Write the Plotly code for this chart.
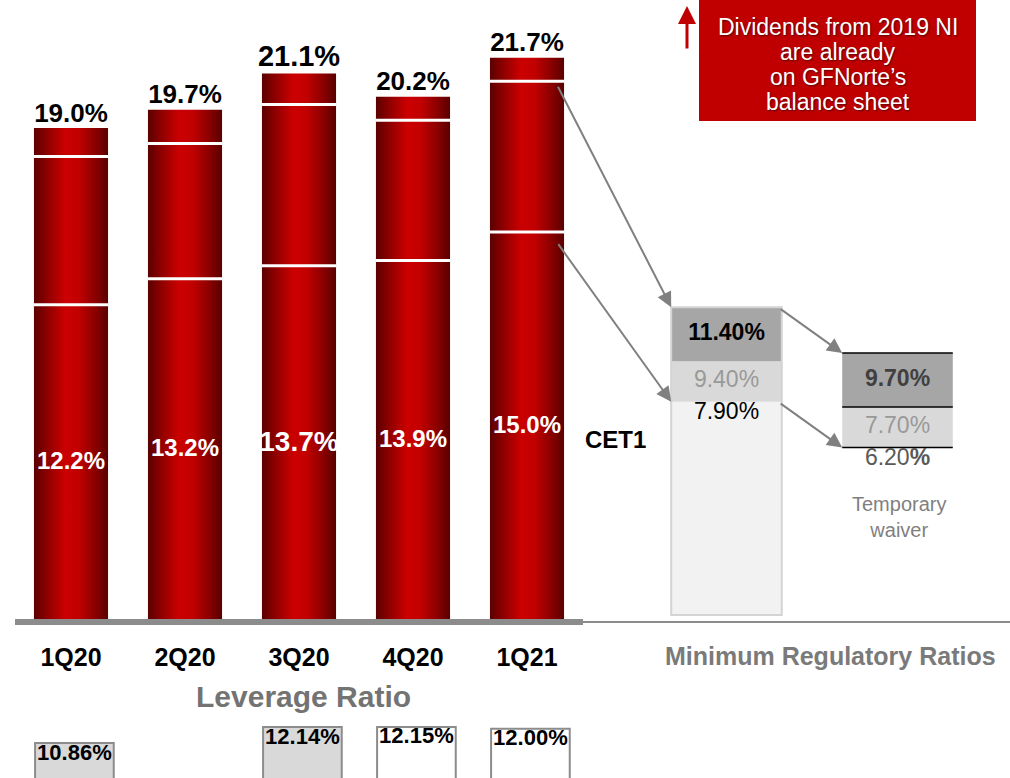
import plotly.graph_objects as go

# ---- data ---------------------------------------------------------------
quarters = ["1Q20", "2Q20", "3Q20", "4Q20", "1Q21"]
cet1 = [12.2, 13.2, 13.7, 13.9, 15.0]          # CET1 ratio (%)
tier1 = [17.9, 18.4, 19.9, 19.3, 20.8]         # Tier 1 ratio (%)
total_cap = [19.0, 19.7, 21.1, 20.2, 21.7]     # Total capital ratio (%)
leverage = [10.86, None, 12.14, 12.15, 12.00]  # Leverage ratio (%)

reg_min = [7.90, 9.40, 11.40]      # minimum regulatory ratios
reg_waiver = [6.20, 7.70, 9.70]    # with temporary waiver

note_lines = ["Dividends from 2019 NI", "are already",
              "on GFNorte’s", "balance sheet"]

# ---- geometry / style ---------------------------------------------------
W, H = 1010, 778
FONT = "Arial, Liberation Sans, sans-serif"
BAR_W = 0.65
REG_W = 0.97
REG_X = [5.75, 7.25]
GRAY_ARROW = "#808080"


def px_x(p):
    return p / W


def px_y(p):
    return 1 - p / H


def pct(v, bold=True):
    s = f"{v:.1f}%"
    return f"<b>{s}</b>" if bold else s


fig = go.Figure()

# Stacked capital bars drawn as gradient-filled columns
grad = [[0.0, "#5a0000"], [0.15, "#860000"], [0.42, "#cc0000"],
        [0.6, "#c20000"], [0.85, "#850000"], [1.0, "#580000"]]
for i, tot in enumerate(total_cap):
    x0, x1 = i - BAR_W / 2, i + BAR_W / 2
    fig.add_trace(go.Scatter(
        x=[x0, x1, x1, x0, x0], y=[0, 0, tot, tot, 0],
        mode="none", fill="toself",
        fillgradient=dict(type="horizontal", colorscale=grad),
        hoverinfo="skip", showlegend=False))

# White separators at CET1 and Tier 1 levels
sx, sy = [], []
for i in range(len(quarters)):
    for lvl in (cet1[i], tier1[i]):
        sx += [i - BAR_W / 2, i + BAR_W / 2, None]
        sy += [lvl, lvl, None]
fig.add_trace(go.Scatter(x=sx, y=sy, mode="lines",
                         line=dict(color="white", width=3),
                         hoverinfo="skip", showlegend=False))

# Total ratio labels above the bars
fig.add_trace(go.Scatter(
    x=list(range(len(quarters))), y=total_cap, mode="text",
    text=[pct(v) for v in total_cap], textposition="top center",
    textfont=dict(family=FONT, color="black",
                  size=[26, 26, 29, 26, 26]),
    hoverinfo="skip", showlegend=False))

# CET1 labels inside the bars
fig.add_trace(go.Scatter(
    x=list(range(len(quarters))), y=[v / 2 for v in cet1], mode="text",
    text=[pct(v) for v in cet1], textposition="middle center",
    textfont=dict(family=FONT, color="white",
                  size=[24, 24, 28, 24, 24]),
    hoverinfo="skip", showlegend=False))

# Minimum regulatory ratios (stacked boxes on secondary scale)
fig.add_trace(go.Bar(
    x=[REG_X[0]] * 3,
    y=[reg_min[0], reg_min[1] - reg_min[0], reg_min[2] - reg_min[1]],
    base=[0, reg_min[0], reg_min[1]], width=REG_W,
    marker=dict(color=["#f2f2f2", "#d9d9d9", "#a6a6a6"], line=dict(width=0)),
    yaxis="y2", hoverinfo="skip", showlegend=False))
fig.add_trace(go.Bar(
    x=[REG_X[1]] * 2,
    y=[reg_waiver[1] - reg_waiver[0], reg_waiver[2] - reg_waiver[1]],
    base=[reg_waiver[0], reg_waiver[1]], width=REG_W,
    marker=dict(color=["#d9d9d9", "#a6a6a6"], line=dict(width=0)),
    yaxis="y2", hoverinfo="skip", showlegend=False))

# Black rules on the waiver box
lx, ly = [], []
for v in reg_waiver:
    lx += [REG_X[1] - REG_W / 2, REG_X[1] + REG_W / 2, None]
    ly += [v, v, None]
fig.add_trace(go.Scatter(x=lx, y=ly, mode="lines", yaxis="y2",
                         line=dict(color="black", width=1.5),
                         hoverinfo="skip", showlegend=False))

# Labels of the regulatory boxes
for xc, vals, colors, top_txt, mid_txt, low_txt in [
    (REG_X[0], reg_min, ["black", "#999999", "black"],
     f"<b>{reg_min[2]:.2f}%</b>", f"{reg_min[1]:.2f}%", f"{reg_min[0]:.2f}%"),
    (REG_X[1], reg_waiver, ["#404040", "#999999", "#595959"],
     f"<b>{reg_waiver[2]:.2f}%</b>", f"{reg_waiver[1]:.2f}%",
     f"{reg_waiver[0]:.2f}<b>%</b>"),
]:
    fig.add_trace(go.Scatter(
        x=[xc, xc], y=[(vals[1] + vals[2]) / 2, (vals[0] + vals[1]) / 2],
        mode="text", text=[top_txt, mid_txt], textposition="middle center",
        textfont=dict(family=FONT, size=23, color=colors[:2]),
        yaxis="y2", hoverinfo="skip", showlegend=False))
    fig.add_trace(go.Scatter(
        x=[xc], y=[vals[0]], mode="text", text=[low_txt],
        textposition="bottom center",
        textfont=dict(family=FONT, size=23, color=colors[2]),
        yaxis="y2", hoverinfo="skip", showlegend=False))

# Leverage ratio boxes
LEV_OFFSET = 0.03
lev_x = [i + LEV_OFFSET for i in range(len(quarters))]
fig.add_trace(go.Bar(
    x=lev_x, y=leverage, width=0.69,
    marker=dict(color=["#d9d9d9", "#d9d9d9", "#d9d9d9", "white", "white"],
                line=dict(color="#8c8c8c", width=2)),
    yaxis="y3", hoverinfo="skip", showlegend=False))
lev_tx = [lev_x[i] for i, v in enumerate(leverage) if v is not None]
lev_v = [v for v in leverage if v is not None]
fig.add_trace(go.Scatter(
    x=lev_tx, y=lev_v, mode="text",
    text=[f"<b>{v:.2f}%</b>" for v in lev_v], textposition="bottom center",
    textfont=dict(family=FONT, size=22, color="black"),
    yaxis="y3", hoverinfo="skip", showlegend=False))

# ---- shapes --------------------------------------------------------------
shapes = [
    # outline of the minimum-ratio box
    dict(type="rect", xref="x", yref="y2",
         x0=REG_X[0] - REG_W / 2, x1=REG_X[0] + REG_W / 2,
         y0=0, y1=reg_min[2], line=dict(color="#d4d4d4", width=2),
         layer="above"),
    # baseline
    dict(type="line", xref="paper", yref="y", x0=px_x(15), x1=px_x(583),
         y0=0, y1=0, line=dict(color="#8c8c8c", width=6), layer="above"),
    dict(type="line", xref="paper", yref="y", x0=px_x(583), x1=1,
         y0=0, y1=0, line=dict(color="#8c8c8c", width=2), layer="above"),
    # dividends note box
    dict(type="rect", xref="paper", yref="paper",
         x0=px_x(699), x1=px_x(976), y0=px_y(121), y1=1,
         fillcolor="#c00000", line=dict(width=0)),
]

# ---- annotations ---------------------------------------------------------
ann = []


def arrow(x, y, yref, ax, ay, color=GRAY_ARROW, width=2, size=1.5):
    ann.append(dict(x=x, y=y, xref="x", yref=yref, ax=ax, ay=ay,
                    axref="pixel", ayref="pixel", text="", showarrow=True,
                    arrowhead=2, arrowsize=size, arrowwidth=width,
                    arrowcolor=color, standoff=0))


box1_left = REG_X[0] - REG_W / 2
box2_left = REG_X[1] - REG_W / 2
arrow(box1_left, reg_min[2], "y2", -114, -222)
arrow(box1_left, reg_min[0], "y2", -114, -159)
arrow(box2_left, reg_waiver[2], "y2", -63, -45)
arrow(box2_left, reg_waiver[0], "y2", -63, -45)

# red upward arrow next to the note
ann.append(dict(x=px_x(687), y=px_y(6), xref="paper", yref="paper",
                ax=0, ay=44, text="", showarrow=True, arrowhead=2,
                arrowsize=1.2, arrowwidth=3, arrowcolor="#c00000",
                standoff=0))


def label(text, x, y, size, color, **kw):
    ann.append(dict(text=text, x=px_x(x), y=px_y(y), xref="paper",
                    yref="paper", xanchor="center", yanchor="middle",
                    showarrow=False,
                    font=dict(family=FONT, size=size, color=color), **kw))


for k, line in enumerate(note_lines):
    label(line, 838, 27 + 25 * k, 23, "white")
    ann[-1]["font"]["shadow"] = "1px 1px 2px rgba(0,0,0,0.55)"
label("<b>CET1</b>", 615, 439, 24, "black")
label("Temporary<br>waiver", 899, 517, 20, "#7f7f7f", align="center")
label("<b>Minimum Regulatory Ratios</b>", 830, 656, 25, "#7a7a7a")
label("<b>Leverage Ratio</b>", 303, 696, 30, "#737373")

# ---- layout --------------------------------------------------------------
fig.update_layout(
    width=W, height=H, margin=dict(l=0, r=0, t=0, b=0),
    paper_bgcolor="white", plot_bgcolor="white",
    barmode="overlay", showlegend=False, hovermode=False,
    font=dict(family=FONT),
    xaxis=dict(range=[-71 / 114, (W - 71) / 114], domain=[0, 1],
               anchor="free", position=(H - 622) / H,
               tickvals=list(range(len(quarters))),
               ticktext=[f"<b>{q}</b>" for q in quarters],
               tickfont=dict(family=FONT, size=25, color="black"),
               ticks="", ticklabelstandoff=18,
               showline=False, showgrid=False, zeroline=False),
    yaxis=dict(range=[-(H - 622) / 26, 622 / 26], domain=[0, 1],
               visible=False, showgrid=False, zeroline=False),
    yaxis2=dict(range=[-(H - 615) / 27, 615 / 27], overlaying="y",
                visible=False, showgrid=False, zeroline=False),
    yaxis3=dict(range=[8.06, 14.3], domain=[0, 78 / H], anchor="x",
                visible=False, showgrid=False, zeroline=False),
    shapes=shapes, annotations=ann,
)

fig.write_html("out.html")
